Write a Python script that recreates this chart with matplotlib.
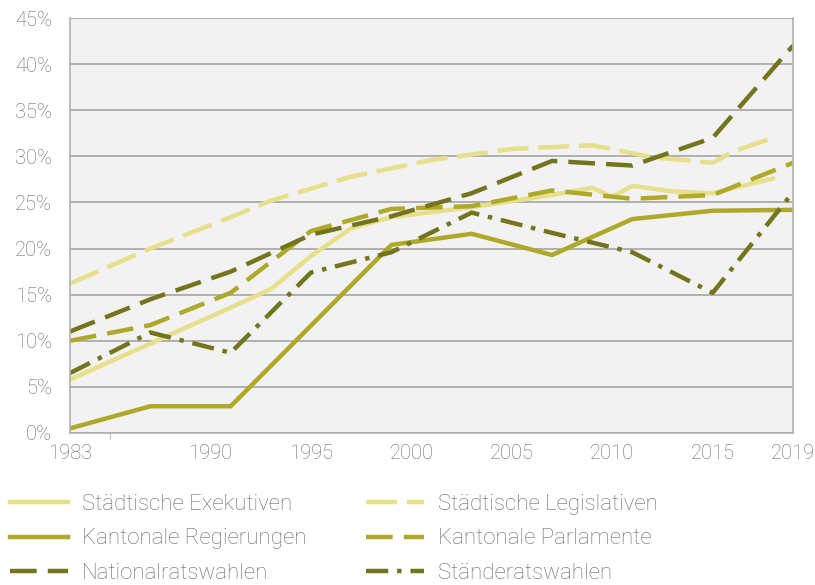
import matplotlib
matplotlib.use("Agg")
import matplotlib.pyplot as plt

# ---------------- data ----------------
years_exe = [1983, 1987, 1991, 1993, 1995, 1997, 1999, 2003, 2007, 2009, 2010, 2011, 2013, 2015, 2018]
staedt_exe = [5.8, 9.7, 13.6, 15.6, 19.2, 22.2, 23.4, 24.5, 25.8, 26.6, 25.6, 26.8, 26.2, 26.0, 27.6]

years_leg = [1983, 1987, 1991, 1993, 1997, 2001, 2005, 2009, 2012, 2015, 2016, 2018]
staedt_leg = [16.2, 20.0, 23.4, 25.2, 27.8, 29.6, 30.8, 31.2, 29.9, 29.3, 30.5, 32.0]

years_reg = [1983, 1987, 1991, 1999, 2003, 2007, 2011, 2015, 2019]
kant_reg = [0.5, 2.9, 2.9, 20.4, 21.6, 19.3, 23.2, 24.1, 24.2]

years_parl = [1983, 1987, 1991, 1995, 1999, 2003, 2007, 2011, 2015, 2019]
kant_parl = [10.0, 11.7, 15.2, 21.9, 24.3, 24.6, 26.3, 25.4, 25.8, 29.3]

years_el = [1983, 1987, 1991, 1995, 1999, 2003, 2007, 2011, 2015, 2019]
nationalrat = [11.0, 14.5, 17.5, 21.5, 23.5, 26.0, 29.5, 29.0, 32.0, 42.0]
staenderat = [6.5, 10.9, 8.7, 17.4, 19.6, 23.9, 21.7, 19.6, 15.2, 26.1]

xtick_years = [1983, 1990, 1995, 2000, 2005, 2010, 2015, 2019]
ytick_vals = [0, 5, 10, 15, 20, 25, 30, 35, 40, 45]

labels = ["Städtische Exekutiven", "Städtische Legislativen",
          "Kantonale Regierungen", "Kantonale Parlamente",
          "Nationalratswahlen", "Ständeratswahlen"]

# ---------------- style ----------------
LIGHT = "#e7df8a"
MED = "#aea928"
DARK = "#74741c"
TXT = "#6a6a6a"
plt.rcParams['font.family'] = ['Roboto', 'DejaVu Sans']
plt.rcParams['font.weight'] = 'light'

W, H = 815, 585
fig = plt.figure(figsize=(W / 100, H / 100), dpi=100)
ax = fig.add_axes([70 / W, 1 - 433 / H, (793 - 70) / W, (433 - 18) / H])
ax.set_facecolor("#f2f2f2")

lw = 3.2
l_exe, = ax.plot(years_exe, staedt_exe, color=LIGHT, lw=lw, solid_joinstyle='round')
l_leg, = ax.plot(years_leg, staedt_leg, color=LIGHT, lw=lw, linestyle=(0, (7, 2.2)))
l_reg, = ax.plot(years_reg, kant_reg, color=MED, lw=lw)
l_parl, = ax.plot(years_parl, kant_parl, color=MED, lw=lw, linestyle=(0, (6, 2.5)))
l_nr, = ax.plot(years_el, nationalrat, color=DARK, lw=lw, linestyle=(0, (6, 2.5)))
l_sr, = ax.plot(years_el, staenderat, color=DARK, lw=lw, linestyle=(0, (5, 2, 1, 2)))

ax.set_xlim(1983, 2019)
ax.set_ylim(0, 45)
ax.set_yticks(ytick_vals)
ax.set_yticklabels([f"{v}%" for v in ytick_vals])
ax.set_xticks(xtick_years)
ax.set_xticklabels([str(y) for y in xtick_years])
ax.set_xticks(list(range(1985, 2016, 5)), minor=True)
ax.tick_params(axis='x', which='major', length=0, pad=8, labelsize=14.5, labelcolor=TXT)
ax.tick_params(axis='x', which='minor', length=4, color="#c8c8c8", width=1)
ax.tick_params(axis='y', length=0, pad=13, labelsize=14.5, labelcolor=TXT)
ax.grid(axis='y', color="#a5a5a5", lw=1.2)
ax.set_axisbelow(True)
for s in ['left', 'bottom', 'right', 'top']:
    ax.spines[s].set_color("#b0b0b0")
    ax.spines[s].set_linewidth(1.2)
ax.spines['top'].set_visible(False)

leg_kw = dict(loc='upper left', frameon=False, fontsize=16, labelcolor=TXT,
              handlelength=2.6, handletextpad=0.63, labelspacing=0.6,
              borderpad=0, borderaxespad=0)
leg1 = fig.legend([l_exe, l_reg, l_nr], [labels[0], labels[2], labels[4]],
                  bbox_to_anchor=(10 / W, 1 - 494 / H), **leg_kw)
leg2 = fig.legend([l_leg, l_parl, l_sr], [labels[1], labels[3], labels[5]],
                  bbox_to_anchor=(366 / W, 1 - 494 / H), **leg_kw)

fig.savefig("out.png", dpi=100)
